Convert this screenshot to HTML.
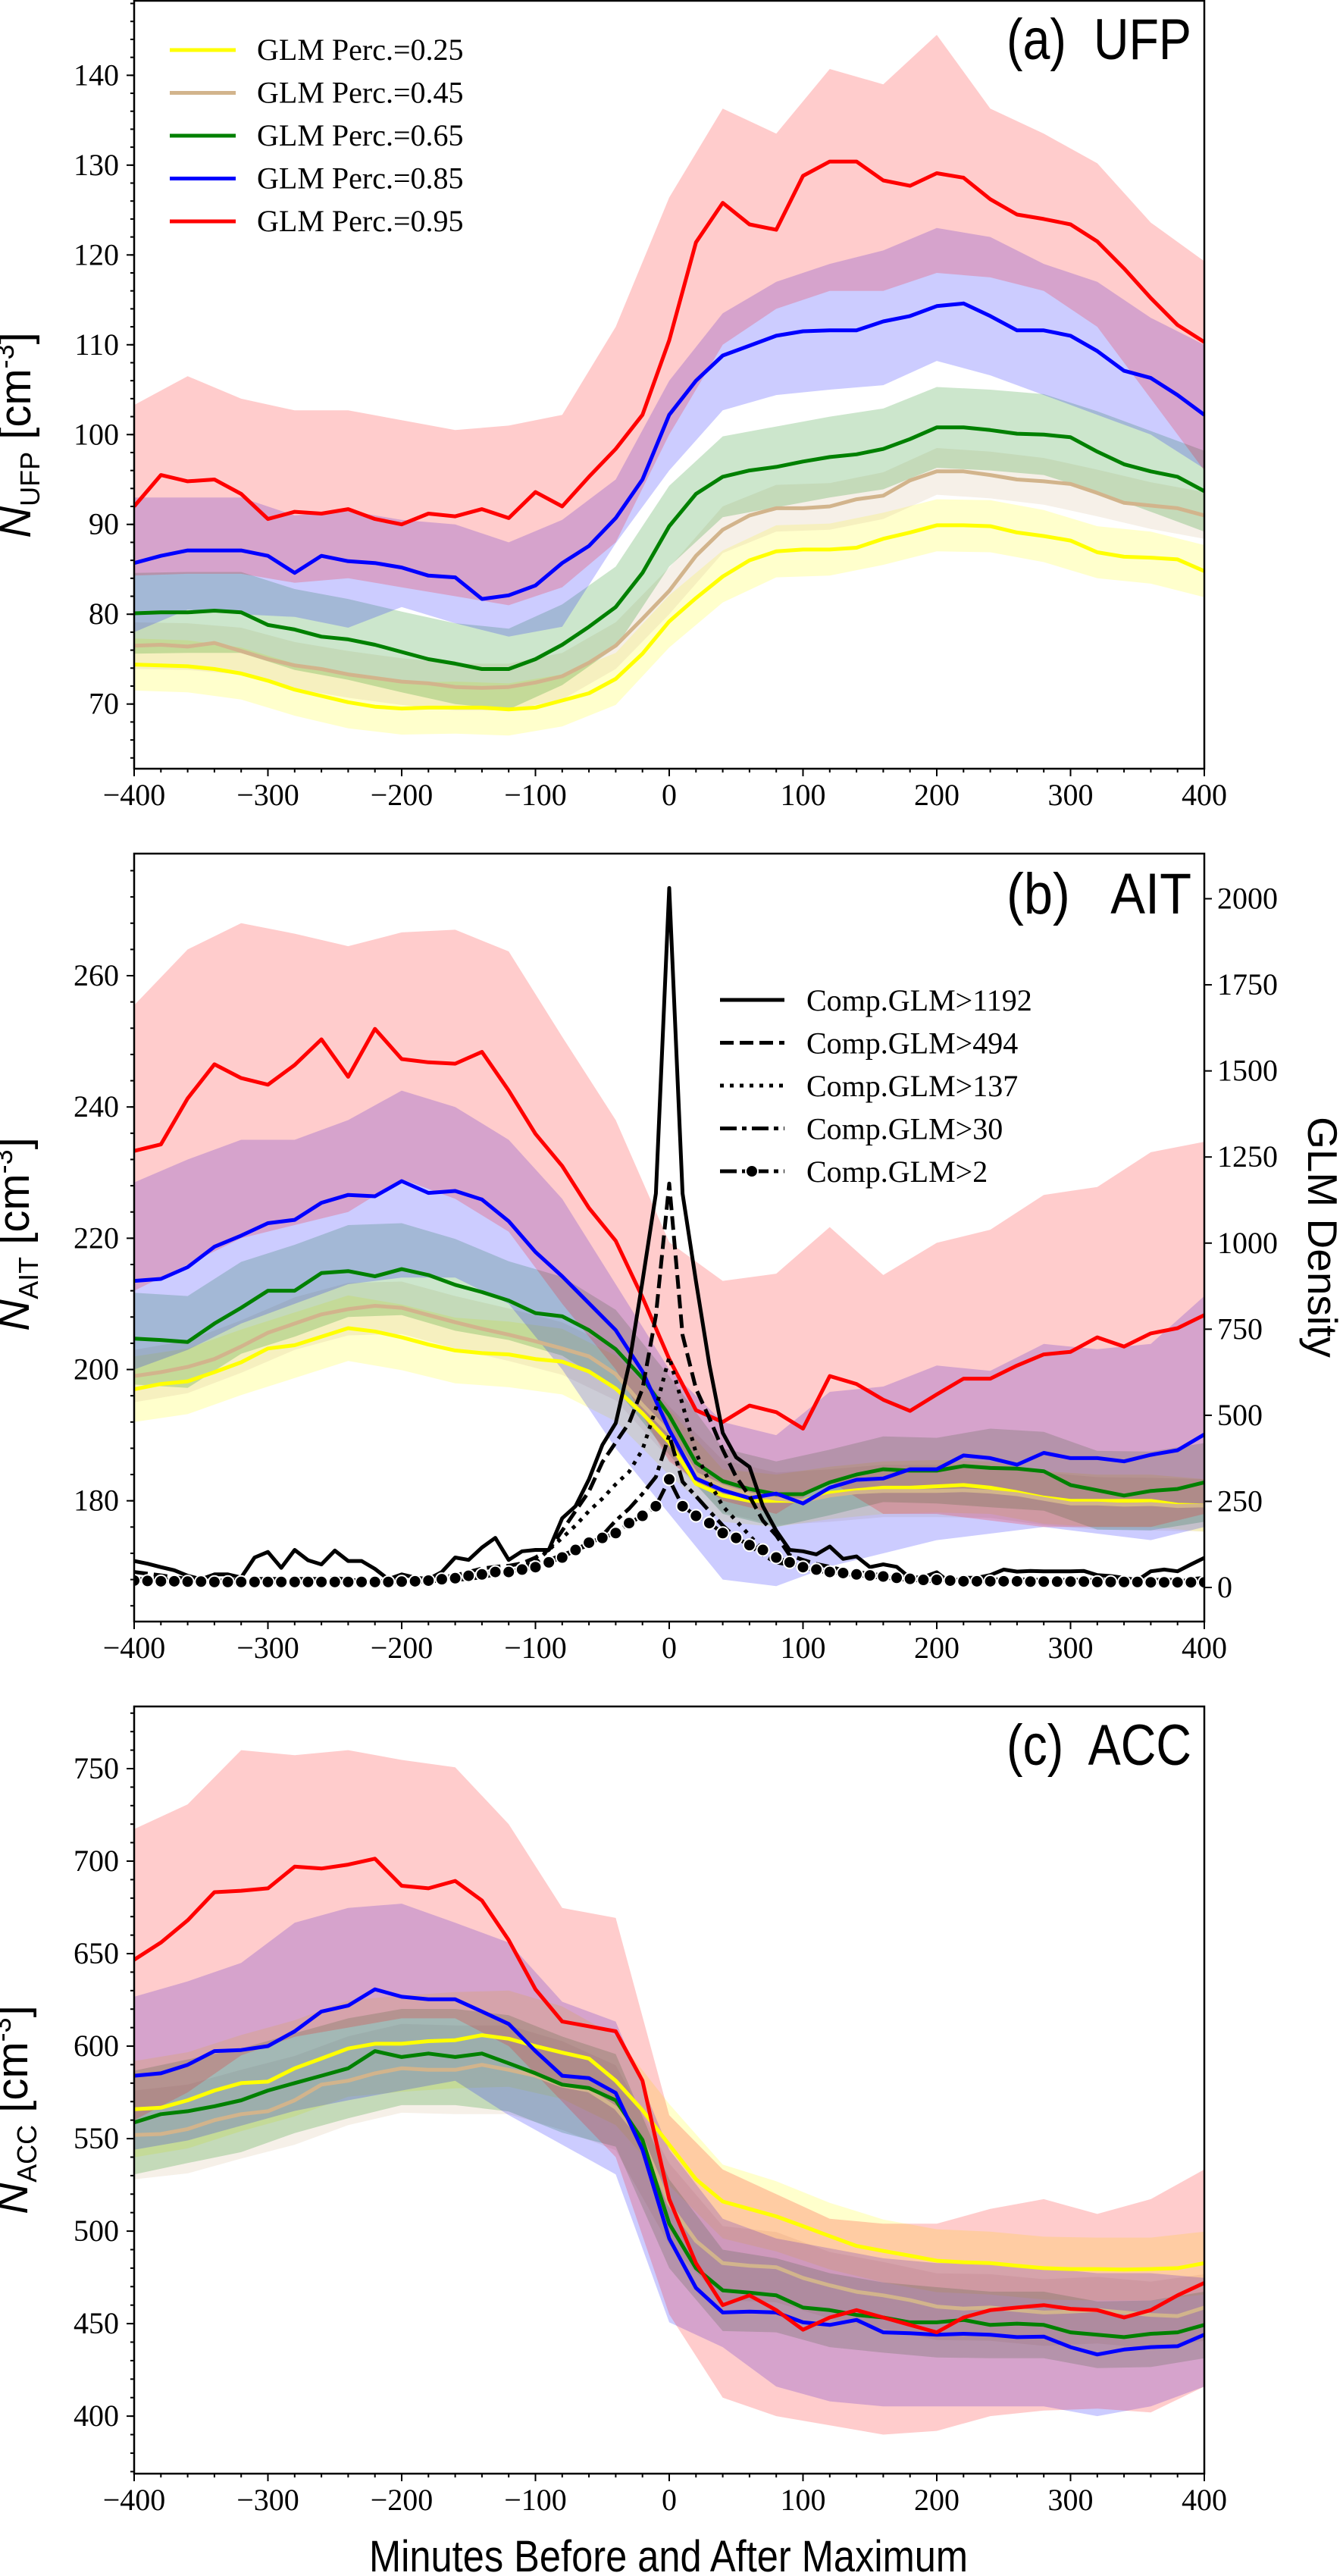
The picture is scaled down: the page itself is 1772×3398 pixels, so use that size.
<!DOCTYPE html>
<html><head><meta charset="utf-8"><title>GLM composite chart</title>
<style>
html,body{margin:0;padding:0;background:#fff;}
svg{display:block;}
.tick{font-family:"Liberation Serif",serif;font-size:40px;fill:#000;}
.sans{font-family:"Liberation Sans",sans-serif;fill:#000;}
.pre{white-space:pre;}
</style></head>
<body>
<svg id="fig" xmlns="http://www.w3.org/2000/svg" width="1772" height="3398" viewBox="0 0 1772 3398"></svg>
<script>
// ---------- DATA ----------
const minutesLabels = ["\u2212400","\u2212300","\u2212200","\u2212100","0","100","200","300","400"];
const seriesNames = ["GLM Perc.=0.25","GLM Perc.=0.45","GLM Perc.=0.65","GLM Perc.=0.85","GLM Perc.=0.95"];
const densityNames = ["Comp.GLM>1192","Comp.GLM>494","Comp.GLM>137","Comp.GLM>30","Comp.GLM>2"];

// Panel (a) UFP means (-400..400 step 20)
const ufpYellow = [74.4,74.3,74.2,73.9,73.4,72.6,71.6,70.9,70.2,69.7,69.5,69.6,69.6,69.6,69.4,69.6,70.4,71.2,72.8,75.6,79.2,81.8,84.2,86,87,87.2,87.2,87.4,88.4,89.1,89.9,89.9,89.8,89.1,88.7,88.2,86.9,86.4,86.3,86.1,84.8];
const ufpTan = [76.5,76.6,76.4,76.8,75.9,75,74.3,73.9,73.3,72.9,72.5,72.3,71.9,71.8,71.9,72.4,73.1,74.6,76.5,79.5,82.6,86.5,89.4,91,91.8,91.8,92,92.8,93.2,94.9,95.9,95.9,95.5,95,94.8,94.5,93.5,92.4,92.1,91.8,91];
const ufpGreen = [80.1,80.2,80.2,80.4,80.2,78.8,78.3,77.5,77.2,76.6,75.8,75,74.5,73.9,73.9,75,76.6,78.6,80.8,84.6,89.8,93.4,95.3,96,96.4,97,97.5,97.8,98.4,99.5,100.8,100.8,100.5,100.1,100,99.7,98.1,96.7,95.9,95.3,93.7];
const ufpBlue = [85.7,86.5,87.1,87.1,87.1,86.5,84.6,86.5,85.9,85.7,85.2,84.3,84.1,81.7,82.1,83.2,85.7,87.6,90.7,95,102.2,106,108.8,109.9,111,111.5,111.6,111.6,112.6,113.2,114.3,114.6,113.2,111.6,111.6,111,109.3,107.1,106.3,104.4,102.2];
const ufpRed = [92,95.5,94.8,95,93.4,90.6,91.4,91.2,91.7,90.6,90,91.2,90.9,91.7,90.7,93.6,92,95.3,98.4,102.2,110.5,121.4,125.8,123.4,122.8,128.8,130.4,130.4,128.3,127.7,129.1,128.6,126.2,124.5,124,123.4,121.5,118.5,115.2,112.2,110.3];
// Panel (a) bands (-400..400 step 40)
const ufpRedHi = [103.3,106.5,104,102.7,102.7,101.6,100.5,101,102.2,112,126.4,136.3,133.5,140.7,139,144.5,136.3,133.5,130.2,123.6,119.3];
const ufpRedLo = [84.3,84.5,84.5,83.5,84,83,82,81,83,88,100,110,114,116,116,118,117.5,116,112,104,96];
const ufpBlueHi = [93,93,93,91,91.5,90.5,90,88,90.5,95,106,113.5,117,119,120.5,123,122,119,117,113,110];
const ufpBlueLo = [78,80.5,80,79.7,78.5,80.8,79,77.5,78.6,87.9,96,102.7,104.4,105,105.5,108.2,106.6,104.4,102.2,100,96.2];
const ufpGreenHw = [4.5,4.5,4.5,4.5,4.5,4.5,4.5,4.5,4.5,4.5,4.5,4.5,4.5,4.5,4.5,4.5,4.5,4.5,4.5,4.5,4.5];
const ufpTanHw = [2.6,2.6,2.6,2.6,2.6,2.6,2.6,2.6,2.6,2.6,2.6,2.6,2.6,2.6,2.6,2.6,2.6,2.6,2.6,2.6,2.6];
const ufpYellowHw = [2.9,2.9,2.9,2.9,2.9,2.9,2.9,2.9,2.9,2.9,2.9,2.9,2.9,2.9,2.9,2.9,2.9,2.9,2.9,2.9,2.9];

// Panel (b) AIT means
const aitYellow = [197,197.8,198.2,199.6,201.1,203.2,203.7,205,206.3,205.8,204.9,203.8,202.9,202.5,202.3,201.6,201.2,199.7,197.1,193.3,188.9,182.6,180.8,180,180,180,181.2,181.6,182,182,182.2,182.4,182,181.3,180.5,180,180,180,180,179.4,179.3];
const aitTan = [199,199.6,200.4,201.6,203.5,205.6,207,208.4,209.2,209.7,209.4,208.3,207.2,206.2,205.3,204.3,203.2,202,199.3,194.6,190.4,184.1,182.2,181,180.3,180,180.8,181.3,181.5,181.5,181.5,181.6,181.4,181,180.3,179.6,179.6,179.4,179.5,179.2,179.3];
const aitGreen = [204.7,204.5,204.2,207,209.4,212,212,214.7,215,214.2,215.3,214.4,212.9,211.8,210.5,208.6,208.1,206,203.1,198.7,193,185.8,183,181.8,181,181,182.8,184,184.8,184.6,184.6,185.3,185,184.9,184.5,182.4,181.6,180.8,181.5,181.8,182.8];
const aitBlue = [213.5,213.8,215.6,218.7,220.4,222.3,222.8,225.4,226.6,226.4,228.7,226.9,227.2,225.9,222.6,217.9,214.2,210.1,206,199.7,190.8,183.4,181.6,180.4,181.1,179.6,182,183.2,183.4,184.8,184.8,186.9,186.5,185.5,187.3,186.5,186.5,186,187,187.7,190.1];
const aitRed = [233.3,234.3,241.3,246.5,244.4,243.4,246.4,250.3,244.6,251.9,247.3,246.8,246.6,248.4,242.5,235.9,231,224.6,219.6,211,201.6,193.8,192,194.5,193.5,191,199,197.8,195.4,193.7,196.2,198.6,198.6,200.6,202.3,202.7,204.9,203.5,205.5,206.3,208.3];
const aitRedHi = [255.5,264,268,266.4,264.5,266.6,267,263.7,250.7,238,219.4,213.5,214.6,221.7,214.4,219.3,221.3,226.6,227.8,233.1,234.7];
const aitRedLo = [212,216,220,222,224,229,226,221,210,200,186,180,178,183,178,178,177,176,176,176,178];
const aitBlueHi = [228.5,232,235,235,238,242.5,240,235,226,213,200,192,190,196.6,197.4,200.6,199.8,203.9,203.1,203.9,211.2];
const aitBlueLo = [200,203,207,210,213,214,214,210,200,188,178,168,167,170,172,174,175,176,175,174,176];
const aitGreenHw = [7,7,7,7,7,7,7,6,6,6,6,5,5,5,5,5,6,6,6,6,6];
const aitTanHw = [4,4,4,4,4,4,4,4,4,4,4,4,4,4,4,4,4,4,4,4,4];
const aitYellowHw = [5,5,5,5,5,5,5,5,5,5,5,4,4,4,4,4,4,4,4,4,4];

// Panel (b) GLM density (-400..400 step 10)
const dens1192 = [77,69,59,50,34,24,38,38,29,87,103,57,109,79,67,107,77,77,54,24,38,29,24,45,87,80,116,144,80,105,109,109,201,236,314,414,477,648,889,1144,2031,1144,889,648,449,378,350,236,165,109,105,96,119,83,90,59,67,60,28,30,44,14,28,28,36,52,46,48,47,47,47,48,36,33,28,21,47,52,47,67,86];
const dens494 = [45,40,35,30,25,22,20,20,22,25,25,25,25,25,25,28,22,20,18,18,20,22,25,30,35,45,55,60,63,70,87,109,165,222,279,364,421,478,577,789,1173,733,577,492,400,321,265,194,151,94,80,68,60,50,45,40,35,30,28,25,24,22,22,22,22,24,24,22,22,22,22,22,22,22,22,22,22,22,22,24,28];
const dens137 = [30,28,25,22,20,20,18,18,18,18,18,18,18,18,18,18,18,18,18,18,18,20,22,24,26,30,35,40,50,60,75,109,144,180,222,258,300,336,400,520,669,531,391,307,236,194,151,109,80,66,55,48,44,40,36,32,28,26,24,22,20,20,20,20,20,20,20,20,20,20,20,20,20,20,20,20,20,20,20,20,20];
const dens30 = [25,24,22,20,18,18,16,16,16,16,16,16,16,16,16,16,16,16,16,16,16,17,18,20,22,25,30,38,45,55,70,80,94,109,123,151,194,229,272,321,442,307,265,222,180,144,123,94,73,66,58,50,45,40,36,32,28,25,22,20,18,18,18,18,18,18,18,18,18,18,18,18,18,18,18,18,18,18,18,18,18];
const dens2 = [20,19,18,18,17,17,16,16,16,16,16,16,16,16,16,16,16,16,16,16,17,18,20,24,27,34,38,45,45,52,59,73,87,109,130,144,158,187,208,236,314,236,208,187,158,144,123,109,87,73,59,52,45,42,38,35,32,28,25,22,22,20,18,18,18,18,18,17,17,17,17,17,16,16,16,16,15,15,15,15,15];

// Panel (c) ACC means
const accYellow = [565.9,566.7,570.7,576,580,580.8,588,593.3,598.7,601.3,601.3,602.7,603.2,605.9,604,600,596.5,593.3,581.3,565.3,546.7,528,516,512,508,502.7,497.3,492,489.3,486.7,484,483.2,482.7,481.3,480,479.5,479.5,479.2,479.5,480,482.7];
const accTan = [552,552.5,555.2,560,563.2,564.8,570.7,579.2,581.3,585.3,588,587.2,587.2,589.9,587.2,584,578.7,576,566.7,549.3,514.7,494.7,482.7,481.3,480.5,474.7,470.7,467.2,465.3,462.7,459.2,458.1,458.7,457.3,456,456.5,457.3,456,454.7,454.1,458.7];
const accGreen = [558.7,563.2,564.8,567.5,570.7,576,580,584,588,597.3,594.1,596,594.1,596,590.7,585.3,579.2,577.3,570.7,549.3,504,480,468,466.7,465.3,458.7,457.3,454.7,453.3,450.7,450.7,452,449.3,450,449.3,445.3,444,442.7,444.5,445.3,449.3];
const accBlue = [584,585.3,589.9,597.3,597.9,600,608,618.7,621.9,630.7,626.7,625.3,625.3,618.7,612,597.3,584,582.7,574.7,544,496,469.3,456,456.5,456,450.7,449.3,452,445.3,444.8,444,444.5,444,442.7,443,437.3,433.3,436,437.3,437.8,444];
const accRed = [646.7,656,668,683.2,684,685.3,697,696,698.1,701.3,686.7,685.3,689.3,678.7,657.3,630.7,613.3,610.7,608,581.3,517.3,482.7,460,465.3,457.3,446.7,453.3,457.3,453.3,449.3,445.3,453.3,457.3,458.7,460,458,457.3,453.3,457.3,465.3,472];
const accRedHi = [717.3,730.7,760,757.3,760,754.7,750.7,720,674.7,669.3,562.7,533.3,520,506.7,504,504,512,517.3,509.3,517.3,533.3];
const accRedLo = [560,575,595,605,610,615,615,600,570,540,455,410,400,395,390,392,400,403,404,402,416];
const accBlueHi = [626.7,635,645,666.7,674.7,677,666.7,656,624,613.3,544,506.7,496,490.7,485.3,482.7,482.7,480,477.3,477.3,474.7];
const accBlueLo = [544,549,557,565,570.7,576,581.3,562.7,546.7,530.7,450.7,437.3,416,408,405.3,405.3,405.3,405.3,400,405.3,416];
const accGreenHw = [28,28,28,27,27,26,26,26,26,25,24,22,20,20,19,19,18,18,18,18,18];
const accTanHw = [24,24,24,24,24,24,24,24,24,23,22,20,19,18,18,18,18,18,18,18,18];
const accYellowHw = [26,26,26,26,26,26,26,26,25,24,22,20,19,18,17,17,17,17,17,17,17];

// ---------- RENDER ----------
const NS = "http://www.w3.org/2000/svg";
const svg = document.getElementById("fig");
function mk(tag, attrs, parent) {
  const e = document.createElementNS(NS, tag);
  for (const k in attrs) e.setAttribute(k, attrs[k]);
  (parent || svg).appendChild(e);
  return e;
}
const X0 = 177, X1 = 1589;
function xs(m) { return X0 + (m + 400) / 800 * (X1 - X0); }
const x20 = []; for (let m = -400; m <= 400; m += 20) x20.push(m);
const x40 = []; for (let m = -400; m <= 400; m += 40) x40.push(m);
const x10 = []; for (let m = -400; m <= 400; m += 10) x10.push(m);
const COLORS = ["#ffff00", "#d2b48c", "#008000", "#0000ff", "#ff0000"];

function makePanel(id, top, bottom, vmin, vmax) {
  const P = {id, top, bottom, vmin, vmax};
  P.y = v => bottom - (v - vmin) / (vmax - vmin) * (bottom - top);
  const cp = mk("clipPath", {id: "clip-" + id});
  mk("rect", {x: X0, y: top, width: X1 - X0, height: bottom - top}, cp);
  P.g = mk("g", {"clip-path": "url(#clip-" + id + ")"});
  
  
  return P;
}
function band(P, lo, hi, color, name) {
  let d = "";
  x40.forEach((m, i) => { d += (i ? "L" : "M") + xs(m).toFixed(1) + "," + P.y(hi[i]).toFixed(1); });
  for (let i = x40.length - 1; i >= 0; i--) d += "L" + xs(x40[i]).toFixed(1) + "," + P.y(lo[i]).toFixed(1);
  const p = mk("path", {d: d + "Z", fill: color, "fill-opacity": 0.2, stroke: "none"}, P.g);
  
  
}
function bandHw(P, mean, hw, color, name) {
  const lo = [], hi = [];
  x40.forEach((m, i) => { lo.push(mean[2 * i] - hw[i]); hi.push(mean[2 * i] + hw[i]); });
  band(P, lo, hi, color, name);
}
function line(P, xsArr, vals, color, name, extra, parent) {
  const pts = xsArr.map((m, i) => xs(m).toFixed(1) + "," + P.y(vals[i]).toFixed(1)).join(" ");
  const attrs = {points: pts, fill: "none", stroke: color, "stroke-width": 5, "stroke-linejoin": "round"};
  for (const k in (extra || {})) attrs[k] = extra[k];
  const l = mk("polyline", attrs, parent || P.g);
  
  
  return l;
}
function frame(P, id) {
  const r = mk("rect", {x: X0, y: P.top, width: X1 - X0, height: P.bottom - P.top, fill: "none", stroke: "#000", "stroke-width": 2.5});
  
  
  const xt = mk("g", {});
  
  
  for (let m = -400; m <= 400; m += 20) {
    const major = m % 100 === 0;
    mk("line", {x1: xs(m), x2: xs(m), y1: P.bottom, y2: P.bottom + (major ? 10 : 5), stroke: "#000", "stroke-width": 2}, xt);
  }
  minutesLabels.forEach((lab, i) => {
    const t = mk("text", {x: xs(-400 + i * 100), y: P.bottom + 48, "text-anchor": "middle", class: "tick"}, xt);
    t.textContent = lab;
    
    
  });
}
function yAxis(P, id, majors, minorStep) {
  const g = mk("g", {});
  
  
  for (let v = Math.ceil(P.vmin / minorStep) * minorStep; v <= P.vmax; v += minorStep) {
    mk("line", {x1: X0 - 5, x2: X0, y1: P.y(v), y2: P.y(v), stroke: "#000", "stroke-width": 2}, g);
  }
  majors.forEach(v => {
    mk("line", {x1: X0 - 10, x2: X0, y1: P.y(v), y2: P.y(v), stroke: "#000", "stroke-width": 2}, g);
    const t = mk("text", {x: 157, y: P.y(v) + 13, "text-anchor": "end", class: "tick"}, g);
    t.textContent = String(v);
    
    
  });
}
function yLabel(cx, cy, sub, id) {
  const t = mk("text", {transform: "translate(" + cx + "," + cy + ") rotate(-90)", "text-anchor": "middle", class: "sans", "font-size": 58});
  
  
  t.innerHTML = '<tspan font-style="italic">N</tspan><tspan font-size="36" dy="12">' + sub + '</tspan><tspan dy="-12"> [cm</tspan><tspan font-size="36" dy="-22">-3</tspan><tspan dy="22">]</tspan>';
}
function title(txt, baseline, id) {
  const t = mk("text", {x: 1572, y: baseline, "text-anchor": "end", class: "sans pre", "font-size": 76, textLength: 244, lengthAdjust: "spacingAndGlyphs"});
  t.textContent = txt;
  
  
}

// ---- Panel A ----
const PA = makePanel("a", 1, 1014, 62.8, 148.3);
bandHw(PA, ufpYellow, ufpYellowHw, COLORS[0], "ufp-band-025");
bandHw(PA, ufpTan, ufpTanHw, COLORS[1], "ufp-band-045");
bandHw(PA, ufpGreen, ufpGreenHw, COLORS[2], "ufp-band-065");
band(PA, ufpBlueLo, ufpBlueHi, COLORS[3], "ufp-band-085");
band(PA, ufpRedLo, ufpRedHi, COLORS[4], "ufp-band-095");
[ufpYellow, ufpTan, ufpGreen, ufpBlue, ufpRed].forEach((s, i) => line(PA, x20, s, COLORS[i], "ufp-line-" + seriesNames[i].slice(-4)));
frame(PA, "a");
yAxis(PA, "a", [70,80,90,100,110,120,130,140], 2);
yLabel(40, 574, "UFP", "a");
title("(a)  UFP", 78, "a");
const legA = mk("g", {});


seriesNames.forEach((n, i) => {
  const yy = 66 + i * 56.5;
  mk("line", {x1: 224, x2: 311, y1: yy, y2: yy, stroke: COLORS[i], "stroke-width": 5}, legA);
  const t = mk("text", {x: 339, y: yy + 13, class: "tick"}, legA);
  t.textContent = n;
  
  
});

// ---- Panel B ----
const PB = makePanel("b", 1126, 2139, 161.6, 278.6);
bandHw(PB, aitYellow, aitYellowHw, COLORS[0], "ait-band-025");
bandHw(PB, aitTan, aitTanHw, COLORS[1], "ait-band-045");
bandHw(PB, aitGreen, aitGreenHw, COLORS[2], "ait-band-065");
band(PB, aitBlueLo, aitBlueHi, COLORS[3], "ait-band-085");
band(PB, aitRedLo, aitRedHi, COLORS[4], "ait-band-095");
[aitYellow, aitTan, aitGreen, aitBlue, aitRed].forEach((s, i) => line(PB, x20, s, COLORS[i], "ait-line-" + seriesNames[i].slice(-4)));
const DMIN = -99, DMAX = 2131;
const PD = {y: d => PB.bottom - (d - DMIN) / (DMAX - DMIN) * (PB.bottom - PB.top), g: PB.g};
const densStyles = [{}, {"stroke-dasharray": "18,8"}, {"stroke-dasharray": "5,8"}, {"stroke-dasharray": "22,7,6,7"}, {"stroke-dasharray": "22,7,6,7"}];
[dens1192, dens494, dens137, dens30, dens2].forEach((s, i) => line(PD, x10, s, "#000", "density-line-" + densityNames[i].split(">")[1], densStyles[i]));
const dotsG = mk("g", {}, PB.g);


x10.forEach((m, i) => mk("circle", {cx: xs(m), cy: PD.y(dens2[i]), r: 8, fill: "#000", stroke: "#fff", "stroke-width": 2}, dotsG));
frame(PB, "b");
yAxis(PB, "b", [180,200,220,240,260], 4);
const rAx = mk("g", {});


[0,250,500,750,1000,1250,1500,1750,2000].forEach(d => {
  mk("line", {x1: X1, x2: X1 + 10, y1: PD.y(d), y2: PD.y(d), stroke: "#000", "stroke-width": 2}, rAx);
  const t = mk("text", {x: 1606, y: PD.y(d) + 13, class: "tick"}, rAx);
  t.textContent = String(d);
  
  
});
const rl = mk("text", {transform: "translate(1726,1632) rotate(90)", "text-anchor": "middle", class: "sans", "font-size": 55});
rl.textContent = "GLM Density";


yLabel(38, 1628, "AIT", "b");
title("(b)   AIT", 1205, "b");
const legB = mk("g", {});


densityNames.forEach((n, i) => {
  const yy = 1319 + i * 56.5;
  const st = Object.assign({x1: 950, x2: 1035, y1: yy, y2: yy, stroke: "#000", "stroke-width": 5}, densStyles[i]);
  mk("line", st, legB);
  if (i === 4) mk("circle", {cx: 992, cy: yy, r: 8, fill: "#000", stroke: "#fff", "stroke-width": 2}, legB);
  const t = mk("text", {x: 1064, y: yy + 14, class: "tick"}, legB);
  t.textContent = n;
  
  
});

// ---- Panel C ----
const PC = makePanel("c", 2251, 3263, 368.9, 783.6);
bandHw(PC, accYellow, accYellowHw, COLORS[0], "acc-band-025");
bandHw(PC, accTan, accTanHw, COLORS[1], "acc-band-045");
bandHw(PC, accGreen, accGreenHw, COLORS[2], "acc-band-065");
band(PC, accBlueLo, accBlueHi, COLORS[3], "acc-band-085");
band(PC, accRedLo, accRedHi, COLORS[4], "acc-band-095");
[accYellow, accTan, accGreen, accBlue, accRed].forEach((s, i) => line(PC, x20, s, COLORS[i], "acc-line-" + seriesNames[i].slice(-4)));
frame(PC, "c");
yAxis(PC, "c", [400,450,500,550,600,650,700,750], 10);
yLabel(36, 2783, "ACC", "c");
title("(c)  ACC", 2328, "c");

const xt = mk("text", {x: 882, y: 3392, "text-anchor": "middle", class: "sans", "font-size": 58, textLength: 790, lengthAdjust: "spacingAndGlyphs"});
xt.textContent = "Minutes Before and After Maximum";


</script>
</body></html>
